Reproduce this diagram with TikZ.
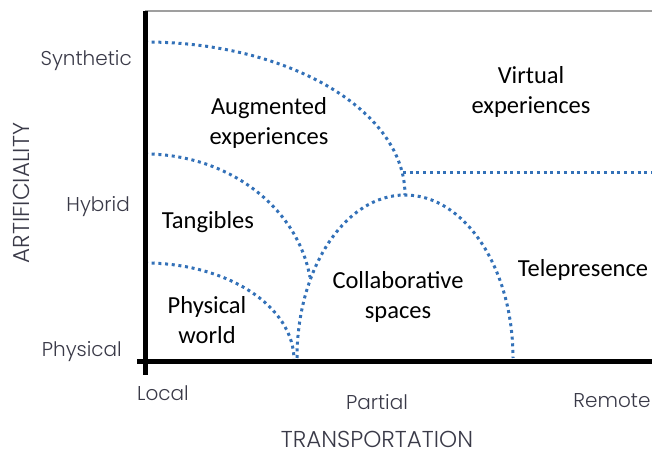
\documentclass[tikz,border=0pt]{standalone}
\usepackage{fontspec}
\setmainfont{Carlito}
\IfFontExistsTF{Poppins Light}{\newfontfamily\axisfont{Poppins Light}}{\newfontfamily\axisfont{Poppins}}
\definecolor{dotblue}{HTML}{3371B8}
\definecolor{axisgray}{HTML}{3A3A48}

\begin{document}
\begin{tikzpicture}[x=1pt,y=1pt,
    region/.style={align=center,font=\fontsize{24.5}{30}\selectfont},
    axislbl/.style={text=axisgray,inner sep=0pt,font=\axisfont\fontsize{20}{24}\selectfont},
    axistitle/.style={axislbl,font=\axisfont\fontsize{23}{27}\selectfont},
    zone/.style={dotblue,line width=3pt,dash pattern=on 3pt off 3.7pt}]
    \useasboundingbox (-145,-92) rectangle (507,362);
    % zone borders
    \draw [zone] (0,320) arc [start angle=90,end angle=0,x radius=260,y radius=153];
    \draw [zone] (258,189) -- (507,189);
    \draw [zone] (152,4) arc [start angle=180,end angle=0,x radius=108,y radius=163];
    \draw [zone] (0,208) arc [start angle=90,end angle=9,x radius=167,y radius=146];
    \draw [zone] (0,99) arc [start angle=90,end angle=0,x radius=149,y radius=97];
    % frame and axes
    \draw [line width=1.2pt,gray!75] (0,351) -- (507,351);
    \draw [line width=5pt] (0,351) -- (0,-13);
    \draw [line width=5pt] (-8,0) -- (507,0);
    % regions
    \node (augm) [region] at (124,239) {Augmented\\experiences};
    \node (virt) [region] at (386,270) {Virtual\\experiences};
    \node (tang) [region] at (63,140) {Tangibles};
    \node (phys) [region] at (62,42) {Physical\\world};
    \node (coll) [region] at (253,65) {Collaborative\\spaces};
    \node (tele) [region] at (438,92) {Telepresence};
    % axis labels
    \node (synth) [axislbl,anchor=base east] at (-13,296) {Synthetic};
    \node (hybr) [axislbl,anchor=base east] at (-15,150) {Hybrid};
    \node (physl) [axislbl,anchor=base east] at (-23,5) {Physical};
    \node (local) [axislbl,anchor=base west] at (-8,-39) {Local};
    \node (part) [axislbl,anchor=base] at (232,-48) {Partial};
    \node (remo) [axislbl,anchor=base] at (467,-46) {Remote};
    \node (transp) [axistitle,anchor=base] at (232,-85) {TRANSPORTATION};
    \node (artif) [axistitle,anchor=base,rotate=90] at (-115,169) {ARTIFICIALITY};
\end{tikzpicture}
\end{document}
